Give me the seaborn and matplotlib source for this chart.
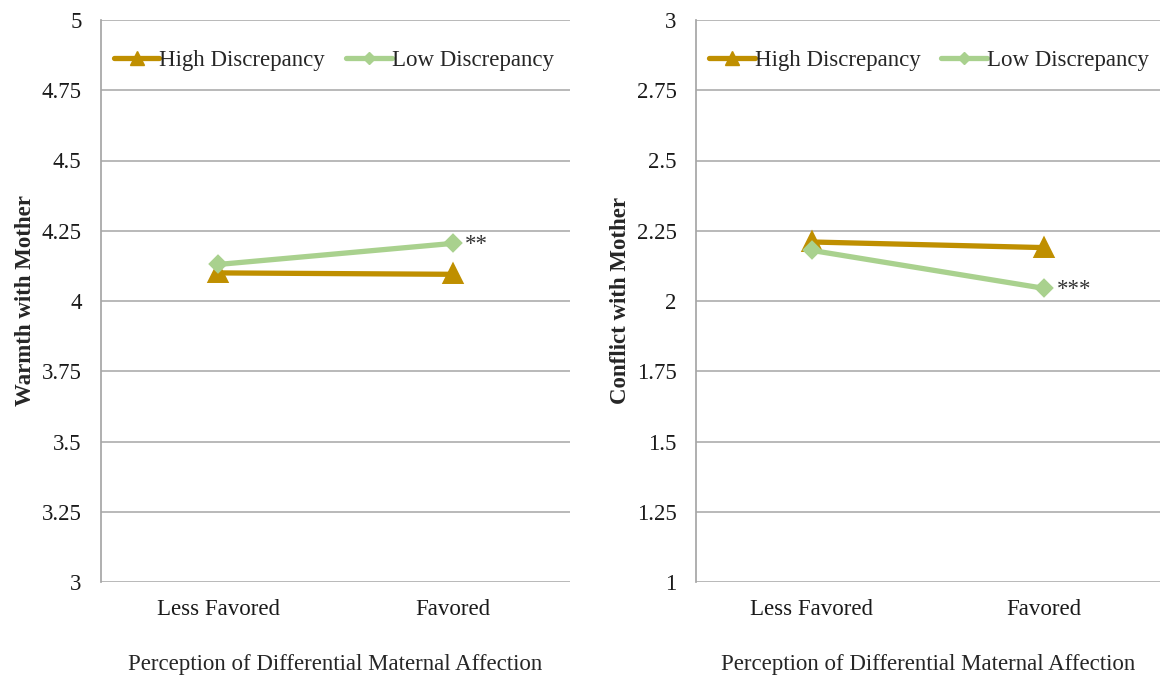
import numpy as np
import pandas as pd
import matplotlib
matplotlib.use("Agg")
import matplotlib.pyplot as plt
import seaborn as sns
from matplotlib.lines import Line2D

# data
categories = ["Less Favored", "Favored"]
groups = ["High Discrepancy", "Low Discrepancy"]
warmth_high = [4.10, 4.095]
warmth_low = [4.13, 4.205]
conflict_high = [2.21, 2.19]
conflict_low = [2.18, 2.045]

colors = {"High Discrepancy": "#BF8F00", "Low Discrepancy": "#A9D18E"}
markers = {"High Discrepancy": "^", "Low Discrepancy": "D"}
msize = {"High Discrepancy": 12, "Low Discrepancy": 7.5}
FS = 16.5


def make_df(high, low):
    rows = []
    for g, vals in zip(groups, [high, low]):
        for c, v in zip(categories, vals):
            rows.append({"cat": c, "group": g, "value": v})
    return pd.DataFrame(rows)


def draw_panel(ax, df, ylim, yticks, ylabel, star, star_group):
    # High first, Low drawn on top of it like in the source
    for g in groups:
        sub = df[df["group"] == g]
        sns.pointplot(data=sub, x="cat", y="value", order=categories, color=colors[g],
                      markers=markers[g], markersize=msize[g], linewidth=3.8,
                      errorbar=None, ax=ax)
    ax.set_xlim(-0.5, 1.5)
    ax.set_ylim(*ylim)
    ax.set_yticks(yticks)
    ax.set_yticklabels([f"{t:g}" for t in yticks])
    ax.grid(axis="y", color="#A6A6A6", linewidth=1.1)
    ax.grid(axis="x", visible=False)
    ax.set_axisbelow(True)
    for s in ["top", "right", "bottom"]:
        ax.spines[s].set_visible(False)
    ax.spines["left"].set_color("#A6A6A6")
    ax.tick_params(length=0, labelsize=FS, colors="#1a1a1a")
    ax.tick_params(axis="y", pad=14)
    ax.tick_params(axis="x", pad=12)
    ax.set_ylabel(ylabel, fontsize=FS, fontweight="bold", labelpad=4)
    ax.set_xlabel("Perception of Differential Maternal Affection", fontsize=FS, labelpad=25)
    yv = df[(df["group"] == star_group) & (df["cat"] == "Favored")]["value"].iloc[0]
    ax.annotate(star, (1, yv), xytext=(9, -1), textcoords="offset points",
                fontsize=FS, va="center", ha="left", color="#333333")
    handles = [Line2D([0], [0], color=colors[g], linewidth=3.8, marker=markers[g],
                      markersize=msize[g] * 0.85) for g in groups]
    ax.legend(handles, groups, loc="upper left", ncol=2, frameon=False,
              fontsize=FS, handlelength=2.0, handletextpad=0.0, columnspacing=0.9,
              bbox_to_anchor=(-0.017, 0.984))


sns.set_theme(style="white")
plt.rcParams["font.family"] = ["Liberation Serif", "DejaVu Serif"]

fig = plt.figure(figsize=(11.6, 6.8), dpi=100)
ax1 = fig.add_axes([101 / 1160, 1 - 582 / 680, 469 / 1160, 562 / 680])
ax2 = fig.add_axes([696 / 1160, 1 - 582 / 680, 464 / 1160, 562 / 680])

draw_panel(ax1, make_df(warmth_high, warmth_low), (3, 5),
           [3, 3.25, 3.5, 3.75, 4, 4.25, 4.5, 4.75, 5], "Warmth with Mother", "**", "Low Discrepancy")
draw_panel(ax2, make_df(conflict_high, conflict_low), (1, 3),
           [1, 1.25, 1.5, 1.75, 2, 2.25, 2.5, 2.75, 3], "Conflict with Mother", "***", "Low Discrepancy")

fig.savefig("out.png", dpi=100)
